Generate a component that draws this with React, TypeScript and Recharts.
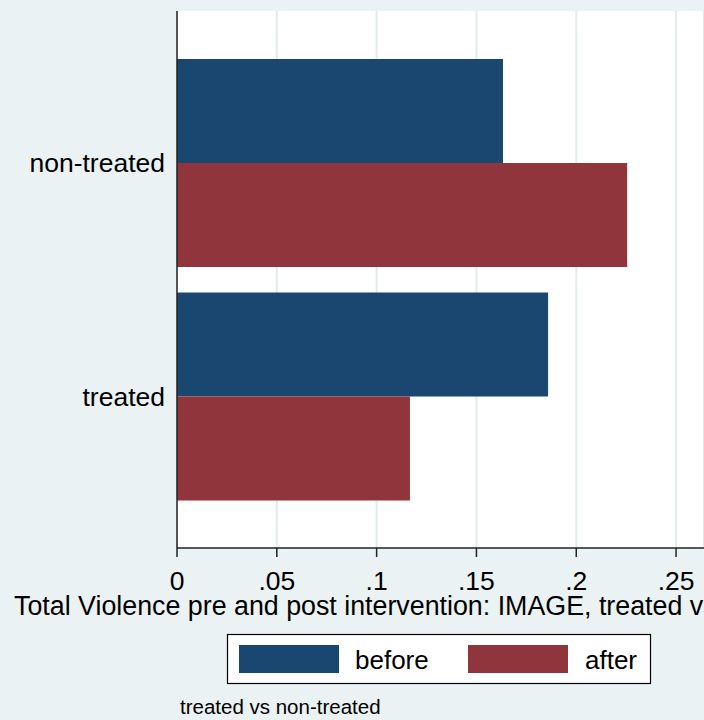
import React from "react";
import { BarChart, Bar, XAxis, YAxis, CartesianGrid } from "recharts";

const categories = ["non-treated", "treated"];
const beforeValues = [0.1633, 0.1859];
const afterValues = [0.2255, 0.1167];
const xTicks = [0, 0.05, 0.1, 0.15, 0.2, 0.25];
const seriesKeys = ["before", "after"];
const seriesLabels = ["before", "after"];
const xTitle = "Total Violence pre and post intervention: IMAGE, treated vs non-treated";
const note = "treated vs non-treated";

const data = categories.map((c, i) => ({ name: c, before: beforeValues[i], after: afterValues[i] }));

const FONT = "'Liberation Sans', Arial, Helvetica, sans-serif";
const BG = "#EAF2F3";
const NAVY = "#1A476F";
const MAROON = "#90353B";
const seriesColors = [NAVY, MAROON];

const fmt = (v: number) => (v === 0 ? "0" : String(v).replace(/^0/, ""));

export default function App() {
  return (
    <div style={{ position: "absolute", left: 0, top: 0, width: 704, height: 720, background: BG, overflow: "hidden" }}>
      <BarChart
        width={704}
        height={720}
        data={data}
        layout="vertical"
        margin={{ top: 11, right: 0, bottom: 112, left: 0 }}
        barGap={0}
        barCategoryGap={13}
      >
        <CartesianGrid horizontal={false} vertical={true} stroke="#E1EBEE" strokeWidth={2} fill="#fff" fillOpacity={1} />
        <XAxis
          type="number"
          domain={[0, 0.264]}
          ticks={xTicks}
          allowDataOverflow
          tickFormatter={fmt}
          height={60}
          tickSize={9}
          tickMargin={14}
          axisLine={{ stroke: "#222", strokeWidth: 1.5 }}
          tickLine={{ stroke: "#222", strokeWidth: 1.5 }}
          tick={{ fill: "#000", fontSize: 26.5, fontFamily: FONT }}
        />
        <YAxis
          type="category"
          dataKey="name"
          width={177}
          padding={{ top: 35, bottom: 35 }}
          tickSize={0}
          tickMargin={12}
          tickLine={false}
          axisLine={{ stroke: "#222", strokeWidth: 1.5 }}
          tick={{ fill: "#000", fontSize: 26.5, fontFamily: FONT }}
        />
        {seriesKeys.map((k, i) => (
          <Bar key={k} dataKey={k} name={seriesLabels[i]} fill={seriesColors[i]} isAnimationActive={false} />
        ))}
      </BarChart>
      <svg width={704} height={720} style={{ position: "absolute", left: 0, top: 0, pointerEvents: "none" }}>
        <text x={14} y={615} fontFamily={FONT} fontSize={26.8} fill="#000">
          {xTitle}
        </text>
        <rect x={227.5} y={634.5} width={423} height={49} fill="#fff" stroke="#000" strokeWidth={1.2} />
        {seriesLabels.map((lab, i) => (
          <g key={lab}>
            <rect x={239 + i * 229} y={645} width={100} height={28} fill={seriesColors[i]} />
            <text x={355 + i * 230} y={669} fontFamily={FONT} fontSize={26} fill="#000">
              {lab}
            </text>
          </g>
        ))}
        <text x={180} y={714} fontFamily={FONT} fontSize={20.5} fill="#000">
          {note}
        </text>
      </svg>
    </div>
  );
}
